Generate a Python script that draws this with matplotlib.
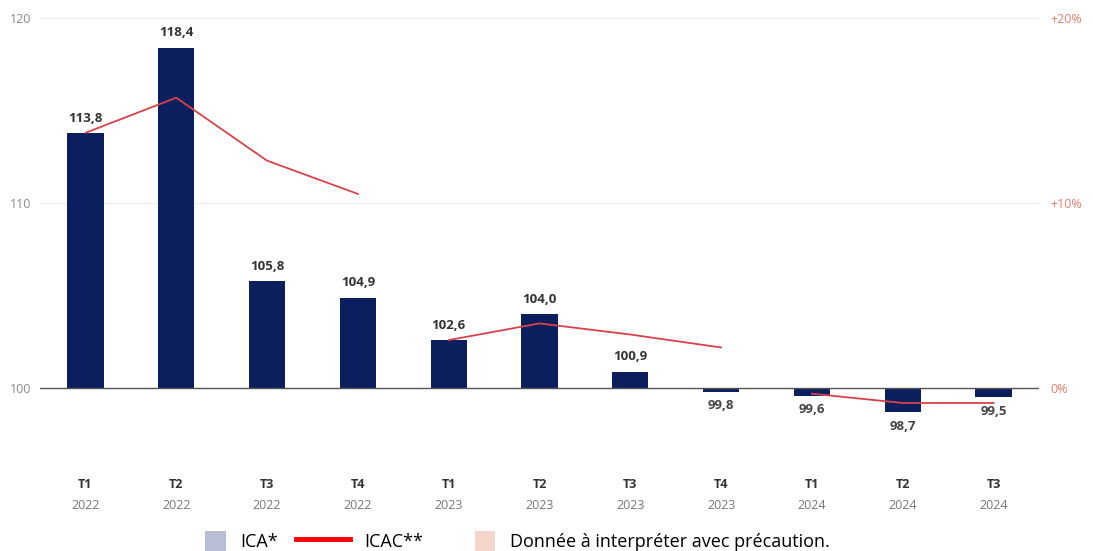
import numpy as np
import matplotlib.pyplot as plt
from matplotlib.patches import Patch, Rectangle
from matplotlib.lines import Line2D
from matplotlib.legend_handler import HandlerPatch

# Data
trimestres = ['T1', 'T2', 'T3', 'T4', 'T1', 'T2', 'T3', 'T4', 'T1', 'T2', 'T3']
annees = ['2022', '2022', '2022', '2022', '2023', '2023', '2023', '2023', '2024', '2024', '2024']
ica = [113.8, 118.4, 105.8, 104.9, 102.6, 104.0, 100.9, 99.8, 99.6, 98.7, 99.5]
# ICAC (%), gaps between years
icac = [13.8, 15.7, 12.3, 10.5, 2.6, 3.5, 2.9, 2.2, -0.3, -0.8, -0.8]
segments = [(0, 4), (4, 8), (8, 11)]

navy = '#0b1f5e'
red_line = '#d9424a'

plt.rcParams['font.family'] = ['Open Sans', 'DejaVu Sans']


class SquareHandler(HandlerPatch):
    # square patch placed at the right end of the handle box
    def create_artists(self, legend, orig_handle, xdescent, ydescent,
                       width, height, fontsize, trans):
        s = height
        r = Rectangle((width - s - xdescent, -ydescent), s, s,
                      facecolor=orig_handle.get_facecolor(), edgecolor='none',
                      transform=trans)
        return [r]


fig = plt.figure(figsize=(10.93, 5.51), dpi=100)
ax = fig.add_axes([0.0366, 0.178, 0.914, 0.789])
x = np.arange(len(ica))

base = 100
heights = [v - base for v in ica]
ax.bar(x, heights, bottom=base, width=0.4, color=navy, zorder=3)

ax.set_xlim(-0.5, 10.5)
ax.set_ylim(96.5, 120)
ax.set_yticks([100, 110, 120])
ax.set_yticklabels(['100', '110', '120'], color='#888888', fontsize=9)
ax.tick_params(axis='y', length=0, pad=6)
for yv in [110, 120]:
    ax.axhline(yv, color='#ececec', lw=1, zorder=1)
ax.axhline(100, color='#555555', lw=1, zorder=4)
ax.set_xticks([])
for s in ax.spines.values():
    s.set_visible(False)

# value labels
for xi, v in zip(x, ica):
    txt = f"{v:.1f}".replace('.', ',')
    if v >= base:
        ax.text(xi, v + 0.45, txt, ha='center', va='bottom', fontsize=9.5,
                fontweight='bold', color='#333333')
    else:
        ax.text(xi, v - 0.4, txt, ha='center', va='top', fontsize=9.5,
                fontweight='bold', color='#444444')

# x labels
tr = ax.get_xaxis_transform()
for xi, t, a in zip(x, trimestres, annees):
    ax.text(xi, -0.072, t, transform=tr, ha='center', va='center', fontsize=9,
            fontweight='bold', color='#333333')
    ax.text(xi, -0.122, a, transform=tr, ha='center', va='center', fontsize=9,
            color='#777777')

# right axis
ax2 = ax.twinx()
ax2.set_ylim(96.5 - base, 120 - base)
ax2.set_yticks([0, 10, 20])
ax2.set_yticklabels(['0%', '+10%', '+20%'], color='#e0806f', fontsize=9)
ax2.tick_params(axis='y', length=0, pad=8)
for s in ax2.spines.values():
    s.set_visible(False)
for a, b in segments:
    ax2.plot(x[a:b], icac[a:b], color=red_line, lw=1.3, zorder=5)

handles = [Patch(color='#b9bdd6'), Line2D([0], [0], color='#ff0000', lw=3.5),
           Patch(color='#f3d6c9')]
labels = ['ICA*', 'ICAC**', 'Donnée à interpréter avec précaution.']
fig.legend(handles, labels, loc='center', bbox_to_anchor=(0.458, 0.018), ncol=3,
           frameon=False, fontsize=13, handlelength=3.0, handleheight=1.4,
           columnspacing=1.0, handletextpad=0.8,
           handler_map={Patch: SquareHandler()})

fig.savefig('out.png', dpi=100)
